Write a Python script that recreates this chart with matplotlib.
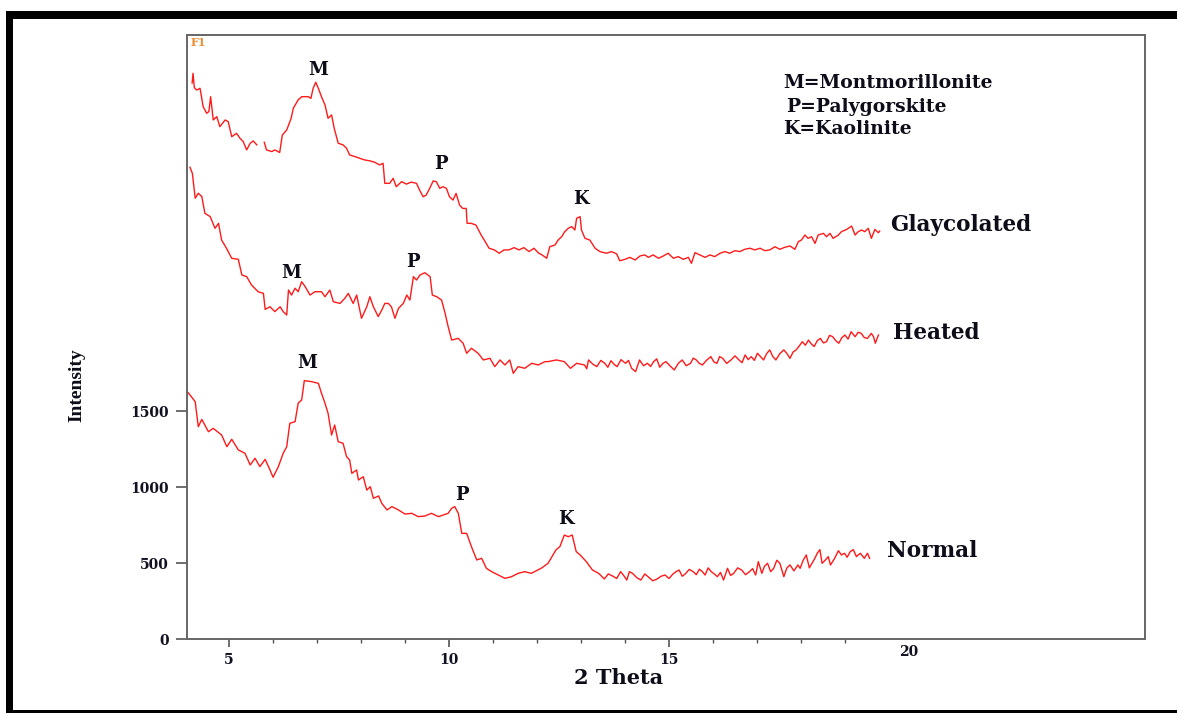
import numpy as np
import matplotlib
matplotlib.use("Agg")
import matplotlib.pyplot as plt
from matplotlib.patches import Rectangle

# ---------------- data (2 Theta, Intensity) ----------------
normal_x = [4.08, 4.24, 4.31, 4.39, 4.54, 4.65, 4.84, 4.96, 5.07, 5.22, 5.37, 5.49, 5.60, 5.71, 5.83,
            5.94, 6.01, 6.13, 6.24, 6.32, 6.39, 6.51, 6.58, 6.66, 6.72, 6.89, 7.04, 7.11, 7.19, 7.26,
            7.34, 7.41, 7.49, 7.60, 7.68, 7.75, 7.80, 7.91, 7.95, 8.06, 8.14, 8.22, 8.29, 8.41, 8.48,
            8.60, 8.71, 8.86, 9.01, 9.16, 9.31, 9.46, 9.61, 9.77, 9.88, 9.99, 10.07, 10.14, 10.22, 10.30,
            10.41, 10.52, 10.64, 10.75, 10.86, 10.98, 11.13, 11.28, 11.43, 11.58, 11.73, 11.88, 12.03, 12.12,
            12.26, 12.44, 12.53, 12.63, 12.72, 12.81, 12.90, 12.99, 13.13, 13.27, 13.41, 13.54, 13.63, 13.73,
            13.82, 13.91, 13.98, 14.05, 14.11, 14.18, 14.28, 14.37, 14.46, 14.55, 14.64, 14.73, 14.83, 14.92,
            15.01, 15.10, 15.17, 15.24, 15.31, 15.38, 15.47, 15.56, 15.63, 15.70, 15.77, 15.83, 15.90, 15.97,
            16.04, 16.11, 16.18, 16.25, 16.34, 16.41, 16.48, 16.57, 16.66, 16.75, 16.84, 16.91, 16.98, 17.04,
            17.12, 17.18, 17.25, 17.32, 17.39, 17.46, 17.53, 17.62, 17.69, 17.76, 17.85, 17.94, 17.99, 18.06,
            18.13, 18.20, 18.26, 18.32, 18.38, 18.44, 18.49, 18.56, 18.63, 18.68, 18.77, 18.86, 18.93, 19.00,
            19.06, 19.13, 19.20, 19.27, 19.31, 19.36, 19.45, 19.52, 19.57]
normal_y = [1623, 1563, 1399, 1447, 1366, 1388, 1344, 1267, 1316, 1246, 1224, 1147, 1191, 1136, 1184,
            1114, 1066, 1136, 1224, 1267, 1421, 1432, 1553, 1575, 1702, 1695, 1684, 1619, 1553, 1487,
            1344, 1410, 1300, 1290, 1202, 1180, 1092, 1114, 1048, 1070, 982, 1004, 928, 943, 895,
            851, 873, 851, 824, 829, 807, 811, 829, 807, 818, 829, 862, 873, 829, 697,
            697, 609, 522, 533, 467, 445, 423, 401, 412, 434, 445, 434, 456, 470,
            500, 588, 610, 686, 675, 686, 577, 555, 511, 456, 434, 397, 430, 416,
            400, 445, 420, 390, 445, 434, 405, 390, 430, 408, 385, 395, 415, 423,
            400, 430, 445, 456, 415, 430, 460, 445, 425, 461, 445, 423, 470, 445,
            430, 412, 440, 390, 467, 420, 434, 470, 456, 425, 445, 465, 423, 511,
            434, 480, 500, 445, 467, 520, 500, 412, 470, 489, 450, 489, 467, 520,
            555, 470, 500, 530, 566, 590, 500, 520, 544, 489, 530, 583, 555, 566,
            540, 577, 590, 544, 555, 566, 533, 566, 533]

heated_x = [4.12, 4.175, 4.24, 4.31, 4.39, 4.46, 4.58, 4.69, 4.77, 4.84, 4.95, 5.07, 5.22, 5.30, 5.41,
            5.52, 5.67, 5.79, 5.83, 5.94, 6.05, 6.17, 6.24, 6.32, 6.36, 6.43, 6.51, 6.58, 6.66, 6.74,
            6.85, 6.96, 7.11, 7.19, 7.30, 7.38, 7.53, 7.64, 7.72, 7.83, 7.91, 8.02, 8.14, 8.21, 8.29,
            8.40, 8.48, 8.55, 8.63, 8.70, 8.78, 8.86, 8.97, 9.05, 9.12, 9.20, 9.27, 9.35, 9.46, 9.58,
            9.63, 9.73, 9.84, 9.92, 9.99, 10.07, 10.22, 10.33, 10.41, 10.52, 10.67, 10.79, 10.94, 11.05,
            11.17, 11.28, 11.39, 11.47, 11.58, 11.73, 11.89, 12.04, 12.19, 12.26, 12.45, 12.63, 12.77, 12.91,
            13.09, 13.14, 13.18, 13.28, 13.37, 13.46, 13.55, 13.62, 13.69, 13.76, 13.83, 13.92, 14.02, 14.09,
            14.16, 14.25, 14.34, 14.43, 14.52, 14.59, 14.66, 14.73, 14.80, 14.87, 14.94, 15.03, 15.13, 15.22,
            15.31, 15.40, 15.50, 15.56, 15.63, 15.70, 15.77, 15.86, 15.96, 16.03, 16.10, 16.16, 16.23, 16.32,
            16.42, 16.51, 16.60, 16.67, 16.74, 16.81, 16.88, 16.95, 17.02, 17.09, 17.16, 17.23, 17.30, 17.37,
            17.44, 17.53, 17.62, 17.69, 17.76, 17.83, 17.90, 17.97, 18.04, 18.11, 18.18, 18.24, 18.31, 18.38,
            18.45, 18.52, 18.59, 18.66, 18.73, 18.80, 18.87, 18.94, 19.01, 19.08, 19.15, 19.24, 19.31, 19.38,
            19.45, 19.52, 19.61, 19.66, 19.70, 19.77]
heated_y = [3106, 3066, 2902, 2935, 2913, 2803, 2781, 2704, 2737, 2627, 2573, 2507, 2500, 2397, 2386,
            2331, 2287, 2276, 2171, 2188, 2156, 2188, 2156, 2134, 2298, 2265, 2310, 2287, 2353, 2320,
            2265, 2287, 2287, 2254, 2298, 2221, 2210, 2243, 2276, 2210, 2265, 2112, 2188, 2254, 2188,
            2123, 2166, 2210, 2210, 2188, 2112, 2177, 2210, 2265, 2232, 2386, 2364, 2397, 2412, 2386,
            2265, 2254, 2232, 2145, 2057, 1969, 1980, 1948, 1882, 1915, 1882, 1838, 1849, 1794,
            1838, 1805, 1838, 1750, 1794, 1783, 1816, 1805, 1827, 1827, 1838, 1827, 1783, 1816,
            1805, 1780, 1838, 1810, 1794, 1835, 1816, 1790, 1833, 1810, 1794, 1840, 1816, 1835,
            1783, 1761, 1838, 1800, 1816, 1795, 1827, 1845, 1790, 1815, 1827, 1800, 1772, 1815,
            1838, 1800, 1816, 1850, 1838, 1815, 1805, 1835, 1860, 1825, 1816, 1860, 1849, 1815,
            1838, 1865, 1838, 1820, 1871, 1840, 1860, 1835, 1882, 1860, 1838, 1880, 1904, 1860,
            1838, 1880, 1904, 1880, 1849, 1890, 1904, 1930, 1958, 1935, 1969, 1945, 1926, 1965,
            1980, 1950, 1958, 2000, 1991, 1965, 1948, 1985, 2002, 1975, 2024, 1991, 2020, 2013,
            1985, 1980, 2013, 1990, 1948, 2002]

glyco_x = [4.17, 4.19, 4.22, 4.27, 4.35, 4.42, 4.50, 4.55, 4.59, 4.65, 4.73, 4.80, 4.92, 4.99, 5.07,
           5.18, 5.26, 5.33, 5.41, 5.49, 5.56, 5.64, 5.72, 5.81, 5.86, 5.98, 6.05, 6.16, 6.22, 6.32,
           6.42, 6.47, 6.58, 6.66, 6.81, 6.87, 6.92, 6.98, 7.04, 7.11, 7.19, 7.26, 7.34, 7.40, 7.49,
           7.60, 7.68, 7.75, 7.87, 7.98, 8.09, 8.21, 8.32, 8.43, 8.51, 8.55, 8.66, 8.74, 8.81, 8.93,
           9.04, 9.15, 9.27, 9.34, 9.42, 9.49, 9.57, 9.65, 9.72, 9.80, 9.87, 9.95, 10.02, 10.10, 10.17,
           10.25, 10.32, 10.40, 10.42, 10.51, 10.62, 10.74, 10.81, 10.92, 11.04, 11.15, 11.26, 11.37, 11.49,
           11.60, 11.71, 11.83, 11.94, 12.05, 12.12, 12.23, 12.30, 12.42, 12.49, 12.57, 12.64, 12.72, 12.80,
           12.87, 12.91, 12.99, 13.02, 13.10, 13.21, 13.33, 13.44, 13.59, 13.70, 13.82, 13.89, 14.01, 14.12,
           14.24, 14.35, 14.46, 14.54, 14.65, 14.77, 14.88, 14.99, 15.11, 15.22, 15.33, 15.45, 15.52, 15.60,
           15.71, 15.83, 15.94, 16.05, 16.17, 16.28, 16.39, 16.51, 16.62, 16.73, 16.85, 16.96, 17.08, 17.19,
           17.30, 17.42, 17.53, 17.64, 17.76, 17.87, 17.95, 18.02, 18.10, 18.17, 18.25, 18.33, 18.40, 18.52,
           18.59, 18.67, 18.74, 18.86, 18.93, 19.05, 19.16, 19.24, 19.31, 19.39, 19.46, 19.54, 19.61, 19.69,
           19.77, 19.80]
glyco_y = [3660, 3724, 3630, 3614, 3625, 3505, 3461, 3472, 3570, 3417, 3439, 3373, 3417, 3406, 3307,
           3329, 3296, 3275, 3220, 3264, 3279, 3253, np.nan, 3270, 3220, 3209, 3220, 3203, 3318, 3351,
           3428, 3494, 3549, 3570, 3570, 3559, 3625, 3665, 3625, 3570, 3516, 3428, 3450, 3362, 3264,
           3253, 3231, 3187, 3176, 3165, 3154, 3148, 3139, 3121, 3132, 3000, 3000, 3033, 2978, 3011,
           2995, 3008, 3000, 2956, 2912, 2923, 2967, 3016, 3011, 2967, 2978, 2967, 2912, 2890, 2934,
           2857, 2835, 2835, 2737, 2737, 2726, 2660, 2627, 2573, 2562, 2540, 2562, 2562, 2577,
           2562, 2577, 2551, 2573, 2540, 2530, 2507, 2583, 2595, 2627, 2649, 2682, 2704, 2715,
           2693, 2770, 2781, 2693, 2638, 2627, 2573, 2551, 2540, 2551, 2536, 2491, 2500, 2513,
           2496, 2522, 2529, 2513, 2529, 2507, 2522, 2540, 2507, 2518, 2500, 2513, 2474, 2544,
           2529, 2513, 2529, 2518, 2540, 2551, 2540, 2557, 2551, 2566, 2573, 2562, 2573, 2557,
           2562, 2583, 2566, 2579, 2588, 2566, 2616, 2627, 2660, 2638, 2649, 2605, 2660, 2671,
           2649, 2671, 2638, 2660, 2682, 2697, 2719, 2660, 2682, 2693, 2682, 2704, 2638, 2697,
           2675, 2686]

series_names = ["Glaycolated", "Heated", "Normal"]
series_label_pos = [(20.03, 2726), (20.10, 2015), (19.96, 581)]

peak_labels = ["M", "P", "K", "M", "P", "M", "P", "K"]
peak_pos = [(7.03, 3746), (9.83, 3127), (13.01, 2897),
            (6.42, 2411), (9.19, 2483),
            (6.78, 1819), (10.30, 949), (12.67, 792)]

legend_lines = ["M=Montmorillonite", "P=Palygorskite", "K=Kaolinite"]
legend_pos = [(17.60, 3660), (17.67, 3505), (17.60, 3358)]

x_major = [5, 10, 15]
x_minor = [6, 7, 8, 9, 11, 12, 13, 14, 16, 17, 18, 19]
y_ticks = [0, 500, 1000, 1500]

# ---------------- figure ----------------
plt.rcParams['font.family'] = ['DejaVu Serif']
plt.rcParams['font.weight'] = 'bold'

W, H = 1177, 713
fig = plt.figure(figsize=(W / 100, H / 100), dpi=100)
fig.patch.set_facecolor('white')

# black frame (clipped on the right like the reference)
fig.add_artist(Rectangle((6 / W, 1 - 19 / H), 1 - 6 / W, 8 / H, transform=fig.transFigure,
                         facecolor='black', edgecolor='none'))
fig.add_artist(Rectangle((6 / W, 0), 7 / W, 1 - 11 / H, transform=fig.transFigure,
                         facecolor='black', edgecolor='none'))
fig.add_artist(Rectangle((6 / W, 0), 1 - 6 / W, 3 / H, transform=fig.transFigure,
                         facecolor='black', edgecolor='none'))

ax = fig.add_axes([187.3 / W, 73.7 / H, (1145 - 187.3) / W, (639.3 - 34.7) / H])
ax.set_xlim(4.06, 25.83)
ax.set_ylim(0, 3978)

red = '#ff1a1a'
for xs, ys in [(normal_x, normal_y), (heated_x, heated_y), (glyco_x, glyco_y)]:
    ax.plot(xs, ys, color=red, lw=1.0)

for sp in ax.spines.values():
    sp.set_color('#666666')
    sp.set_linewidth(1.4)

ax.set_xticks(x_major)
ax.set_xticks(x_minor, minor=True)
ax.set_yticks(y_ticks)
ax.tick_params(axis='x', which='major', direction='out', length=6, width=1.2, colors='#555555',
               labelcolor='#111122', labelsize=10, pad=4)
ax.tick_params(axis='x', which='minor', direction='out', length=3, width=1.0, colors='#555555')
ax.tick_params(axis='y', which='major', direction='out', length=8, width=1.2, colors='#555555',
               labelcolor='#111122', labelsize=10, pad=5)
ax.tick_params(axis='y', which='minor', left=False)
for lab in ax.get_xticklabels() + ax.get_yticklabels():
    lab.set_fontweight('bold')

# unticked "20" label
ax.text(20.46, -0.021, "20", transform=ax.get_xaxis_transform(), ha='center', va='center',
        fontsize=10, fontweight='bold', color='#111122')

txt_col = '#0d0d1a'
for name, (lx, ly) in zip(series_names, series_label_pos):
    ax.text(lx, ly, name, ha='left', va='center', fontsize=15.5, fontweight='bold', color=txt_col)

for lab, (px, py) in zip(peak_labels, peak_pos):
    ax.text(px, py, lab, ha='center', va='center', fontsize=13, fontweight='bold', color=txt_col)

for line, (lx, ly) in zip(legend_lines, legend_pos):
    ax.text(lx, ly, line, ha='left', va='center', fontsize=13.5, fontweight='bold', color=txt_col)

ax.text(4.14, 3924, "F1", ha='left', va='center', fontsize=8, fontweight='bold', color='#f08a30')

fig.text(619 / W, 1 - 678 / H, "2 Theta", ha='center', va='center', fontsize=15,
         fontweight='bold', color=txt_col)
fig.text(77 / W, 1 - 385 / H, "Intensity", ha='center', va='center', rotation=90,
         fontsize=14, fontweight='bold', color=txt_col, family='Liberation Serif')

fig.savefig("out.png", dpi=100, facecolor='white')
